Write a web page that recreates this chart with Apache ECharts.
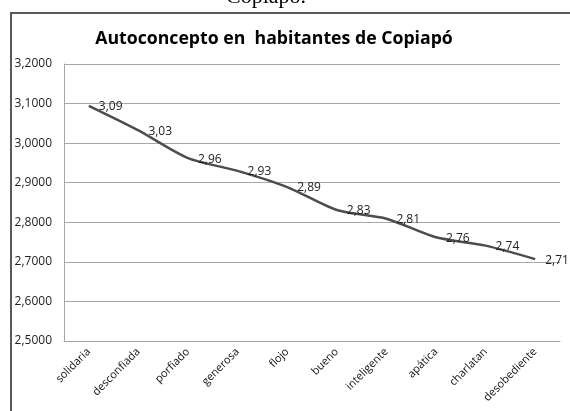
<!DOCTYPE html>
<html>
<head>
<meta charset="utf-8">
<script src="https://cdn.jsdelivr.net/npm/echarts@6/dist/echarts.min.js"></script>
<style>
html, body { margin: 0; padding: 0; background: #fff; }
#chartBox { width: 570px; height: 411px; }
</style>
</head>
<body>
<div id="chartBox"></div>
<script>
// datos
let categorias = ['solidaria', 'desconfiada', 'porfiado', 'generosa', 'flojo', 'bueno', 'inteligente', 'apática', 'charlatan', 'desobediente'];
let valores = [3.094, 3.032, 2.962, 2.930, 2.889, 2.831, 2.809, 2.762, 2.741, 2.707];
let ticksY = [2.5, 2.6, 2.7, 2.8, 2.9, 3.0, 3.1, 3.2];

let chartBox = echarts.init(document.getElementById('chartBox'));
let option = {
    animation: false,
    title: {
        show: true, text: 'Autoconcepto en  habitantes de Copiapó', left: 269, top: 25, textAlign: 'center',
        textStyle: {fontFamily: 'Open Sans', fontWeight: 'bold', fontSize: 17.7, color: '#000'}
    },
    graphic: [
        {type: 'text', left: 226, top: -14, style: {text: 'Copiapó.', font: '22px "Liberation Serif"', fill: '#000'}},
        {type: 'rect', shape: {x: 11, y: 13, width: 580, height: 420}, style: {fill: 'none', stroke: '#595959', lineWidth: 2}}
    ],
    grid: {left: 64, right: 10, top: 64, bottom: 70, containLabel: false},
    xAxis: {
        type: 'category', boundaryGap: true, data: categorias,
        axisLine: {show: true, lineStyle: {color: '#a6a6a6'}},
        axisTick: {show: false},
        axisLabel: {rotate: 45, interval: 0, fontFamily: 'Open Sans', fontSize: 11, color: '#111', margin: 9}
    },
    yAxis: {
        type: 'value', min: ticksY[0], max: ticksY[ticksY.length - 1], interval: 0.1,
        axisLine: {show: true, lineStyle: {color: '#a6a6a6'}},
        axisTick: {show: false},
        splitLine: {show: true, lineStyle: {color: '#a6a6a6'}},
        axisLabel: {
            fontFamily: 'Open Sans', fontSize: 12, color: '#222', margin: 12,
            formatter: function (v) { return v.toFixed(4).replace('.', ','); }
        }
    },
    series: [{
        type: 'line', data: valores, smooth: 0.25, symbol: 'circle', symbolSize: 0, showSymbol: true,
        itemStyle: {color: '#4d4d4d'},
        lineStyle: {color: '#4d4d4d', width: 2.5},
        label: {
            show: true, position: 'right', distance: 10, offset: [0, 1],
            fontFamily: 'Open Sans', fontSize: 12, color: '#222',
            formatter: function (p) { return p.value.toFixed(2).replace('.', ','); }
        }
    }]
};
chartBox.setOption(option, true);
</script>
</body>
</html>
